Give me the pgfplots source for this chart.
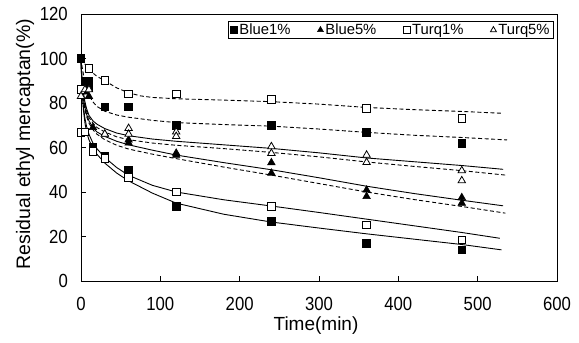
\documentclass[border=0pt]{standalone}
\usepackage{fontspec}
\setmainfont{Liberation Sans}
\newfontfamily\tickfont{Liberation Sans}[FakeStretch=0.88]
\usepackage{pgfplots}
\pgfplotsset{compat=1.18}

\begin{document}
\begin{tikzpicture}
\begin{axis}[
  scale only axis, width=476pt, height=267pt,
  xmin=0, xmax=600, ymin=0, ymax=120,
  xtick={0,100,...,600}, ytick={0,20,...,120},
  xtick pos=bottom, ytick pos=left, tick align=inside,
  major tick length=5pt,
  /pgf/number format/assume math mode=true,
  ticklabel style={font=\tickfont\fontsize{19}{19}\selectfont, inner sep=0pt},
  xticklabel style={anchor=north, yshift=-16pt},
  yticklabel style={anchor=east, xshift=-13pt},
  axis line style={line width=0.8pt},
  every tick/.style={line width=0.7pt, black},
  clip=false,
  legend columns=4,
  legend cell align=left,
  legend image code/.code={\draw[#1, mark size=3.4pt] plot coordinates {(5pt,0pt)};},
  legend style={at={(0.9937,0.9738)}, anchor=north east, draw=black, line width=0.7pt,
    inner xsep=2pt, inner ysep=0.5pt,
    font=\fontsize{14.8}{15}\selectfont,
    /tikz/every even column/.append style={column sep=25pt}},
  curve/.style={black, line width=0.9pt, no marks},
  dcurve/.style={black, line width=0.9pt, no marks, dash pattern=on 4pt off 2.5pt},
]
\coordinate (O) at (rel axis cs:0,0);
% fitted curves
\addplot[curve, forget plot] coordinates {(0,100)(1,88)(2,82)(3,77)(5,71)(7,67)(10,63.5)(15,59.5)(20,57)(30,53)(45,48.5)(60,45)(90,39.5)(120,35)(180,30)(240,26.5)(300,23.8)(360,21.2)(420,18.8)(480,16.4)(530,14)};
\addplot[curve, forget plot] coordinates {(0,100)(1,89)(2,83)(3,78.5)(5,73)(7,69.5)(10,66)(15,62)(20,59.5)(30,55.5)(45,51)(60,47.5)(90,43)(120,40)(180,36.5)(240,33.7)(300,30.8)(360,27.8)(420,24.8)(480,21.8)(528,19.2)};
\addplot[curve, forget plot] coordinates {(0,100)(1,91)(2,86)(3,82.5)(5,78)(7,75)(10,72)(15,69)(20,67)(30,65)(45,62.8)(60,61.2)(90,58.8)(120,56.6)(180,53.2)(240,50)(300,46.4)(360,42.6)(420,39.3)(480,36.3)(532,33.8)};
\addplot[dcurve, forget plot] coordinates {(0,100)(1,90)(2,85)(3,81.5)(5,77)(7,74)(10,71)(15,68)(20,66)(30,63.5)(45,61)(60,59.3)(90,57)(120,55)(180,51.2)(240,47.6)(300,43.8)(360,40)(420,36.6)(480,33.5)(535,30.5)};
\addplot[curve, forget plot] coordinates {(0,100)(1,92)(2,88)(3,85)(5,80.5)(7,77.5)(10,74.5)(15,72)(20,70.5)(30,68.5)(45,66.5)(60,65.3)(90,63.8)(120,62.8)(180,61.2)(240,59.6)(300,57.6)(360,55.3)(420,53.6)(480,51.9)(532,50.2)};
\addplot[dcurve, forget plot] coordinates {(0,100)(1,91)(2,87)(3,84)(5,79.5)(7,76.5)(10,73.5)(15,71)(20,69)(30,67)(45,64.8)(60,63.5)(90,62)(120,61)(180,59.5)(240,57.8)(300,55.8)(360,53.5)(420,51.5)(480,49.6)(535,47.6)};
\addplot[dcurve, forget plot] coordinates {(0,100)(1,97)(2,95)(3,93)(5,89.5)(7,86.5)(10,83.5)(15,80.5)(20,78.5)(30,76.3)(45,74.6)(60,73.6)(90,72.2)(120,71.2)(180,70.3)(240,69.6)(300,68.3)(360,66.8)(420,65.5)(480,64.5)(537,63.4)};
\addplot[dcurve, forget plot] coordinates {(0,100)(2,99)(5,97.5)(10,95)(15,93.5)(20,92)(30,90)(45,86.8)(60,84.6)(75,83.2)(90,82.5)(120,81.9)(180,81.3)(240,80.6)(300,79.5)(360,78)(420,77)(480,76.2)(530,75.4)};
% data points
\addplot[only marks, mark=square*, mark size=3.8pt, mark options={fill=black, draw=black, line width=0.6pt}]
  coordinates {(0,100)(5,90)(10,90)(30,78.3)(60,78.3)(120,70)(240,70)(360,66.7)(480,61.8)
               (10,87)(15,60)(30,56.2)(60,50)(120,33.5)(240,26.7)(360,17)(480,14)};
\addlegendentry{Blue1\%}
\addplot[only marks, mark=triangle*, mark size=4.3pt, mark options={fill=black, draw=black, line width=0.6pt}]
  coordinates {(5,85)(10,83)(15,69)(30,66)(60,63.4)(60,62)(120,57.5)(120,56.5)(240,53.2)(240,48.5)(360,40.9)(360,38)(480,37.5)(480,35)};
\addlegendentry{Blue5\%}
\addplot[only marks, mark=square*, mark size=3.8pt, mark options={fill=white, draw=black, line width=0.8pt}]
  coordinates {(0,86)(10,95.6)(30,90.2)(60,84)(120,84)(240,81.6)(360,77.6)(480,73.1)
               (0,66.7)(5,67)(15,58.3)(30,55.2)(60,46.6)(120,40)(240,33.5)(360,25.2)(480,18.5)};
\addlegendentry{Turq1\%}
\addplot[only marks, mark=triangle*, mark size=4.3pt, mark options={fill=white, draw=black, line width=0.8pt}]
  coordinates {(0,83)(5,86)(10,86)(30,66)(60,68.6)(60,66)(120,67)(120,65)(240,60.4)(240,57.4)(360,56.6)(360,53.3)(480,49.6)(480,45.1)};
\addlegendentry{Turq5\%}
\path (rel axis cs:0,0.5) ++(-56pt,3.5pt) node[rotate=90, font=\fontsize{19.5}{19.5}\selectfont] {Residual ethyl mercaptan(\%)};
\path (rel axis cs:0.5,0) ++(-3pt,-45pt) node[font=\fontsize{19}{19}\selectfont] {Time(min)};
\end{axis}
\pgfresetboundingbox
\path[use as bounding box] (O) ++(-81pt,-62pt) rectangle ++(579pt,343pt);
\end{tikzpicture}
\end{document}
